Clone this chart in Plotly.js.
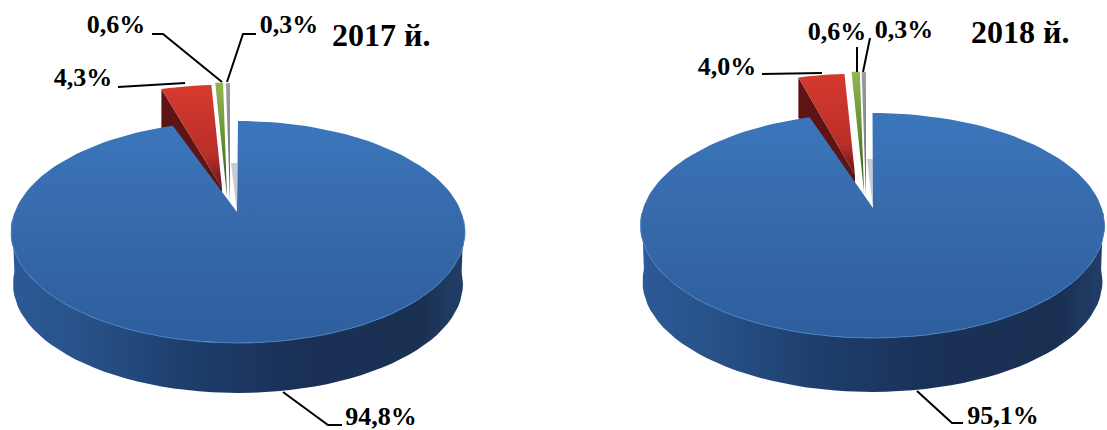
<!DOCTYPE html>
<html><head><meta charset="utf-8">
<script src="https://cdn.plot.ly/plotly-3.0.1.min.js"></script>
<style>html,body{margin:0;padding:0;background:#fff}#c{width:1107px;height:430px}</style>
</head><body><div id="c"></div>
<script>
// Data (percent)
const categories = ['A', 'B', 'C', 'D'];
const values2017 = [94.8, 4.3, 0.6, 0.3];
const values2018 = [95.1, 4.0, 0.6, 0.3];
const titles = ['2017 й.', '2018 й.'];

const FONT = '"Liberation Serif","Times New Roman",serif';
const pies = [
  {values: values2017, title: titles[0], cx: 238, cy: 232, rx: 227, ry: 111, depth: 50, ax: 237, ay: 212,
   red: {ax: 222, ay: 188, k: .93}, green: {ax: 227, ay: 197, k: 1.03}, grey: {ax: 230, ay: 202, k: 1.07},
   titleAt: [381, 35],
   labelAt: [[381, 418], [83, 79], [116, 26], [289, 26]],
   leaders: [[[283, 392], [328, 425], [342, 425]], [[118, 87], [185, 83]], [[152, 34], [163, 34], [222, 82]], [[256, 34], [243, 34], [227, 82]]]},
  {values: values2018, title: titles[1], cx: 872.5, cy: 225.5, rx: 232, ry: 112.5, depth: 54, ax: 873, ay: 208,
   red: {ax: 855, ay: 175, k: .9}, green: {ax: 864, ay: 192, k: 1.07}, grey: {ax: 866, ay: 197, k: 1.11},
   titleAt: [1020, 32],
   labelAt: [[1003, 417], [727, 68], [837, 33], [904, 31]],
   leaders: [[[917, 391], [952, 423], [963, 423]], [[762, 74], [822, 73]], [[857, 47], [857, 72]], [[870, 38], [863, 72]]]}
];

// Perspective: the back of the disc is foreshortened, the front stretched
const warp = t => t - 0.11 * Math.sin(t);
const arc = (from, to, n) => Array.from({length: n + 1}, (_, i) => warp(from + (to - from) * i / n));
const TAU = 2 * Math.PI;

function poly(xs, ys, fill, extra) {
  return Object.assign({type: 'scatter', mode: 'lines', x: xs, y: ys, fill: 'toself', line: {width: 0, color: fill || '#000'},
    fillcolor: fill, hoverinfo: 'skip', showlegend: false}, extra || {});
}
function grad(type, stops) { return {fillgradient: {type: type, colorscale: stops}}; }

const traces = [];
const annotations = [];

pies.forEach(p => {
  const tot = p.values.reduce((a, b) => a + b, 0);
  const [vBlue, vRed, vGreen, vGrey] = p.values.map(v => v / tot * TAU);
  const blueEnd = vBlue;                 // clockwise from 12 o'clock
  const redEnd = blueEnd + vRed;
  const greenEnd = redEnd + vGreen;

  // Exploded small slices (gradient stops run from picture bottom to top)
  const wedge = (s, a0, a1, color, sideColor, gradStops) => {
    const ang = arc(a0, a1, 6);
    const xs = ang.map(a => s.ax + s.k * p.rx * Math.sin(a));
    const ys = ang.map(a => s.ay - s.k * p.ry * Math.cos(a));
    if (sideColor) {
      traces.push(poly([xs[0], xs[0], s.ax, s.ax], [ys[0], ys[0] + 40, s.ay + 40, s.ay], sideColor));
    }
    traces.push(poly([s.ax, ...xs, s.ax], [s.ay, ...ys, s.ay], color, gradStops ? grad('vertical', gradStops) : {}));
  };
  wedge(p.red, blueEnd, redEnd, '#c8352b', '#5e1414',
        [[0, '#5e1418'], [.3, '#b92e27'], [1, '#d63a2e']]);
  wedge(p.green, redEnd, greenEnd, '#6f9a35', null,
        [[0, '#2e4a1c'], [.45, '#5f8a2e'], [1, '#93b653']]);
  wedge(p.grey, greenEnd, TAU, '#8c8f93', null,
        [[0, '#4a4c50'], [.4, '#7c7f84'], [1, '#9a9da2']]);

  // Cut face next to the start of the big slice
  traces.push(poly([p.ax - 6, p.ax, p.ax], [p.ay - 49, p.ay - 49, p.ay], '#c9ccd4'));

  // Side wall of the disc (front half only)
  const front = arc(Math.PI / 2, 3 * Math.PI / 2, 60);
  const topX = front.map(a => p.cx + p.rx * Math.sin(a));
  const topY = front.map(a => p.cy - p.ry * Math.cos(a));
  const botX = front.map(a => p.cx + (p.rx - 2) * Math.sin(a));
  const botY = front.map(a => p.cy + p.depth - (p.ry - 2) * Math.cos(a) + 2);
  traces.push(poly([...topX, ...botX.slice().reverse()], [...topY, ...botY.slice().reverse()], '#1d3a66',
    grad('horizontal', [[0, '#2c5a97'], [.15, '#285289'], [.4, '#1d3d6b'], [.62, '#1a3158'], [.9, '#1a3052'], [1, '#223f69']])));

  // Big slice top surface
  const big = arc(0, blueEnd, 140);
  const bx = big.map(a => p.cx + p.rx * Math.sin(a));
  const by = big.map(a => p.cy - p.ry * Math.cos(a));
  traces.push(poly([p.ax, ...bx, p.ax], [p.ay, ...by, p.ay], '#3871b5',
    grad('vertical', [[0, '#2d5e9d'], [.5, '#3669a9'], [1, '#3b76bc']])));

  // Highlight along the front rim
  traces.push({type: 'scatter', mode: 'lines', x: topX, y: topY, line: {color: '#4a80c2', width: 1},
    hoverinfo: 'skip', showlegend: false});

  // Leader lines
  p.leaders.forEach(l => traces.push({type: 'scatter', mode: 'lines', x: l.map(q => q[0]), y: l.map(q => q[1]),
    line: {color: '#000', width: 2}, hoverinfo: 'skip', showlegend: false}));

  // Value labels
  traces.push({type: 'scatter', mode: 'text', x: p.labelAt.map(q => q[0]), y: p.labelAt.map(q => q[1]),
    text: p.values.map(v => '<b>' + v.toFixed(1).replace('.', ',') + '%</b>'), textposition: 'middle center',
    textfont: {family: FONT, size: 26, color: '#000'}, hoverinfo: 'skip', showlegend: false});

  annotations.push({xref: 'x', yref: 'y', x: p.titleAt[0], y: p.titleAt[1], text: '<b>' + p.title + '</b>', showarrow: false,
    font: {family: FONT, size: 32, color: '#000'}, xanchor: 'center', yanchor: 'middle'});
});

const hidden = {visible: false, fixedrange: true};
Plotly.newPlot('c', traces, {
  width: 1107, height: 430, margin: {l: 0, r: 0, t: 0, b: 0},
  paper_bgcolor: '#fff', plot_bgcolor: '#fff', showlegend: false,
  xaxis: Object.assign({range: [0, 1107]}, hidden),
  yaxis: Object.assign({range: [430, 0]}, hidden),
  annotations: annotations
}, {displayModeBar: false, staticPlot: true});
</script></body></html>
